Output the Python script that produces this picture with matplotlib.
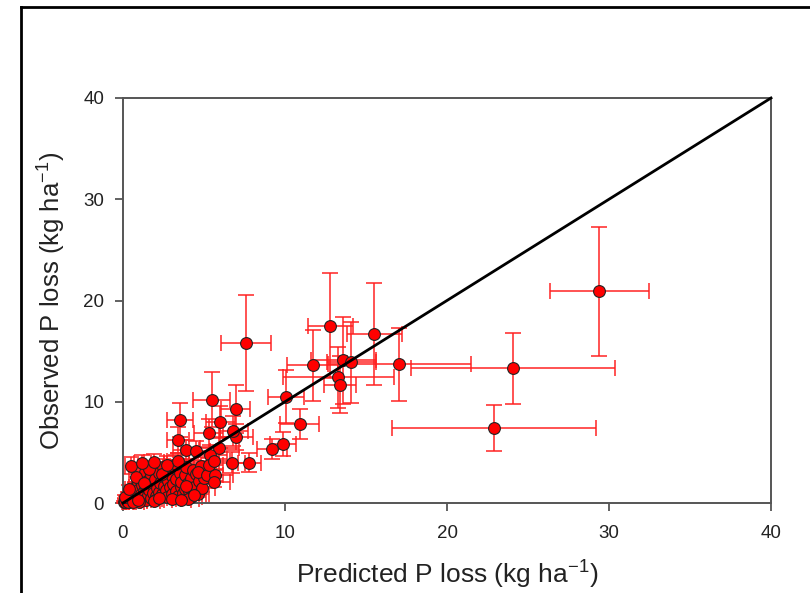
import matplotlib
matplotlib.use("Agg")
import matplotlib.pyplot as plt
from matplotlib.lines import Line2D

plt.rcParams['font.family'] = ['Liberation Sans', 'DejaVu Sans']

# Large, well-separated points: predicted, observed, x error, y error
big_x = [29.4, 24.1, 22.9, 17.06, 7.57, 12.8, 15.5, 11.7, 13.6, 14.1, 13.3, 13.4,
         10.06, 5.47, 6.97, 10.9, 9.9, 9.2, 7.8, 6.7, 7.0, 6.8, 6.0, 5.3, 5.95,
         5.4, 3.5, 3.4, 3.9, 4.5, 0.5, 1.2, 1.9, 3.4, 5.2, 5.7, 5.6, 5.3, 5.6]
big_y = [20.9, 13.3, 7.4, 13.7, 15.8, 17.5, 16.7, 13.6, 14.1, 13.9, 12.4, 11.7,
         10.5, 10.2, 9.3, 7.8, 5.8, 5.3, 4.0, 4.0, 6.5, 7.1, 8.0, 6.9, 5.4,
         4.7, 8.2, 6.2, 5.2, 5.1, 3.7, 3.95, 4.05, 4.1, 2.8, 2.8, 2.1, 3.75, 4.1]
big_xerr = [3.05, 6.3, 6.3, 4.4, 1.55, 1.4, 1.7, 1.6, 2.0, 1.5, 3.45, 1.0,
            1.1, 1.15, 0.9, 1.2, 0.8, 0.9, 0.7, 0.8, 1.0, 0.9, 0.9, 0.9, 1.2,
            1.0, 0.8, 0.7, 0.8, 0.9, 0.4, 0.5, 0.6, 0.7, 1.0, 1.1, 1.0, 0.9, 1.0]
big_yerr = [6.4, 3.5, 2.3, 3.6, 4.7, 5.2, 5.0, 3.5, 4.3, 4.0, 3.0, 2.8,
            2.6, 2.7, 2.4, 1.5, 1.2, 1.0, 0.9, 1.0, 1.3, 1.5, 1.6, 1.4, 1.1,
            1.0, 1.7, 1.3, 1.0, 1.0, 0.8, 0.8, 0.8, 0.8, 0.6, 0.6, 0.5, 0.7, 0.8]

# Dense cluster near the origin
clu_x = [0.05, 0.1, 0.15, 0.2, 0.25, 0.3, 0.35, 0.4, 0.45, 0.5, 0.55, 0.6, 0.65, 0.7,
         0.75, 0.8, 0.85, 0.9, 0.95, 1.0, 1.05, 1.1, 1.15, 1.2, 1.25, 1.3, 1.35, 1.4,
         1.45, 1.5, 1.55, 1.6, 1.7, 1.75, 1.8, 1.85, 1.9, 2.0, 2.05, 2.1, 2.2, 2.25,
         2.3, 2.4, 2.45, 2.5, 2.6, 2.65, 2.7, 2.8, 2.85, 2.9, 3.0, 3.05, 3.1, 3.2,
         3.25, 3.3, 3.4, 3.5, 3.55, 3.6, 3.7, 3.8, 3.85, 3.9, 4.0, 4.1, 4.2, 4.3,
         4.4, 4.5, 4.6, 4.7, 4.8, 4.9, 5.0, 4.2, 3.0, 2.0, 1.0, 0.3, 0.15, 0.6, 0.9,
         1.6, 2.4, 3.3, 4.0, 4.6, 2.7, 1.9, 3.6, 0.8, 1.3, 2.2, 3.9, 4.4, 0.4]
clu_y = [0.1, 0.3, 0.05, 0.5, 0.2, 0.8, 0.4, 0.1, 1.0, 0.6, 0.3, 1.3, 0.9, 0.5,
         1.6, 0.2, 1.1, 0.7, 2.0, 1.4, 0.4, 0.9, 1.8, 2.5, 0.6, 1.2, 3.1, 0.3,
         1.6, 2.2, 0.8, 1.3, 2.8, 0.5, 1.9, 1.0, 3.3, 2.4, 0.7, 1.5, 3.0, 1.1,
         2.0, 0.9, 3.6, 1.7, 2.6, 1.3, 0.6, 2.2, 3.2, 1.6, 0.9, 2.7, 1.9, 3.5,
         1.2, 2.4, 0.7, 3.0, 1.6, 2.1, 1.0, 2.8, 1.4, 3.6, 2.0, 1.2, 2.5, 3.3,
         1.6, 2.9, 0.9, 2.2, 3.7, 1.5, 2.5, 0.6, 0.4, 0.3, 0.1, 0.05, 0.6, 0.05, 0.3,
         3.4, 2.9, 3.9, 0.4, 3.1, 3.8, 0.2, 0.3, 2.6, 2.0, 0.5, 1.7, 0.8, 1.4]
clu_xerr = [0.1, 0.1, 0.1, 0.15, 0.15, 0.2, 0.2, 0.2, 0.25, 0.25, 0.2, 0.3, 0.3, 0.25,
            0.35, 0.3, 0.35, 0.3, 0.4, 0.4, 0.3, 0.35, 0.45, 0.5, 0.35, 0.4, 0.5, 0.35,
            0.45, 0.5, 0.4, 0.45, 0.6, 0.4, 0.5, 0.45, 0.6, 0.55, 0.45, 0.5, 0.6, 0.5,
            0.55, 0.5, 0.7, 0.55, 0.6, 0.55, 0.5, 0.65, 0.7, 0.6, 0.55, 0.7, 0.6, 0.75,
            0.6, 0.7, 0.6, 0.8, 0.65, 0.7, 0.65, 0.8, 0.7, 0.85, 0.75, 0.7, 0.8, 0.85,
            0.75, 0.9, 0.7, 0.8, 0.95, 0.8, 0.9, 0.7, 0.6, 0.5, 0.3, 0.1, 0.1, 0.2, 0.3,
            0.6, 0.7, 0.8, 0.7, 0.9, 0.7, 0.4, 0.6, 0.4, 0.5, 0.5, 0.8, 0.7, 0.3]
clu_yerr = [0.1, 0.15, 0.05, 0.2, 0.1, 0.3, 0.2, 0.1, 0.35, 0.25, 0.15, 0.4, 0.3, 0.2,
            0.45, 0.1, 0.35, 0.3, 0.5, 0.4, 0.2, 0.3, 0.5, 0.6, 0.25, 0.35, 0.7, 0.15,
            0.45, 0.55, 0.3, 0.4, 0.6, 0.2, 0.5, 0.35, 0.7, 0.55, 0.3, 0.4, 0.65, 0.35,
            0.5, 0.3, 0.75, 0.45, 0.6, 0.4, 0.25, 0.55, 0.7, 0.45, 0.3, 0.6, 0.5, 0.75,
            0.4, 0.55, 0.25, 0.65, 0.45, 0.5, 0.35, 0.6, 0.4, 0.75, 0.5, 0.4, 0.6, 0.7,
            0.45, 0.65, 0.3, 0.55, 0.8, 0.45, 0.6, 0.2, 0.15, 0.1, 0.05, 0.05, 0.2, 0.05, 0.1,
            0.7, 0.6, 0.8, 0.2, 0.7, 0.8, 0.1, 0.15, 0.5, 0.4, 0.2, 0.45, 0.3, 0.35]

ticks = [0, 10, 20, 30, 40]
line_x = [0, 40]
line_y = [0, 40]

x_all = clu_x + big_x
y_all = clu_y + big_y
xe_all = clu_xerr + big_xerr
ye_all = clu_yerr + big_yerr

fig = plt.figure(figsize=(8.1, 5.93), dpi=100)
ax = fig.add_axes([123/810, 1-503/593, 648/810, 405/593])

eb = ax.errorbar(x_all, y_all, xerr=xe_all, yerr=ye_all, fmt='none',
                 ecolor='#ff1f1f', elinewidth=1.2, capsize=5.8, capthick=1.2,
                 alpha=0.9, zorder=2)
for art in eb.lines[1]:
    art.set_clip_on(False)
for art in eb.lines[2]:
    art.set_clip_on(False)
ax.scatter(x_all, y_all, s=72, facecolor='#ff0000', edgecolor='#222222',
           linewidth=0.8, zorder=3, clip_on=False)
ax.plot(line_x, line_y, color='black', lw=2.0, zorder=4, clip_on=False)

ax.set_xlim(0, 40)
ax.set_ylim(0, 40)
ax.set_xticks(ticks)
ax.set_yticks(ticks)
for s in ax.spines.values():
    s.set_color('#555555')
    s.set_linewidth(1.4)
ax.tick_params(direction='out', length=5.5, width=1.3, color='#555555',
               labelsize=13.5, labelcolor='#222222')
ax.tick_params(axis='x', pad=10)
ax.tick_params(axis='y', pad=8)
ax.set_xlabel('Predicted P loss (kg ha$^{\\mathregular{-1}}$)', fontsize=19,
              color='#222222', labelpad=11)
ax.set_ylabel('Observed P loss (kg ha$^{\\mathregular{-1}}$)', fontsize=18.5,
              color='#222222', labelpad=12)

fig.add_artist(Line2D([21/810, 21/810], [0, 1-7/593], transform=fig.transFigure,
                      color='black', lw=2.0))
fig.add_artist(Line2D([21/810, 1], [1-7/593, 1-7/593], transform=fig.transFigure,
                      color='black', lw=2.0))

fig.savefig('out.png', dpi=100)
